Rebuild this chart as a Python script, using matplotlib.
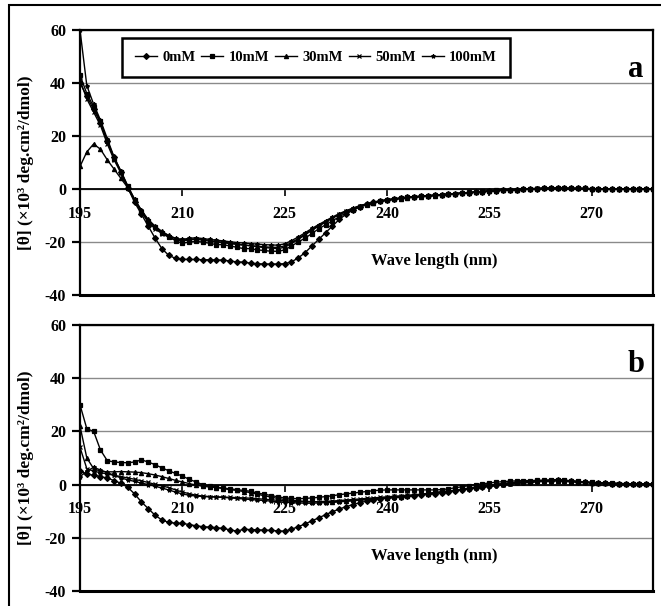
import matplotlib
matplotlib.use("Agg")
import matplotlib.pyplot as plt
from matplotlib.patches import Rectangle
import numpy as np

plt.rcParams['font.family'] = ['Liberation Serif', 'DejaVu Serif']
plt.rcParams['font.weight'] = 'bold'
plt.rcParams['axes.unicode_minus'] = False

# wavelength 195..279 nm, one point per nm
wave = list(range(195, 280))
labels = ["0mM", "10mM", "30mM", "50mM", "100mM"]
markers = ["D", "s", "^", "x", "*"]

# panel a
a_0mM = [40, 35, 30, 25, 18, 12, 6.5, 0.5, -5, -9.5,
         -14, -18.5, -22.5, -25, -26.2, -26.5, -26.6, -26.6, -26.7, -26.7,
         -26.8, -26.8, -27.2, -27.5, -27.6, -28, -28.2, -28.3, -28.3, -28.3,
         -28.2, -27.5, -26, -24, -21.5, -19, -16.5, -14, -11.5, -9.5,
         -8, -6.8, -5.8, -5, -4.4, -4, -3.7, -3.4, -3.2, -3,
         -2.8, -2.6, -2.4, -2.2, -2, -1.8, -1.6, -1.4, -1.2, -1,
         -0.8, -0.6, -0.5, -0.4, -0.2, -0.1, 0, 0.1, 0.2, 0.2,
         0.3, 0.2, 0.2, 0.3, 0.2, 0.1, 0.1, 0, 0, 0.1,
         0, 0, 0, 0, 0]
a_10mM = [43, 36, 31, 25.5, 18, 11.5, 6.5, 1, -4, -8.5,
          -12, -14.5, -16.5, -18, -19.5, -20.5, -20, -19.8, -20, -20.5,
          -21, -21, -21.5, -22, -22.5, -22.5, -23, -23.2, -23.5, -23.5,
          -23, -21.5, -20, -18.5, -16.8, -15, -13.5, -12, -10.5, -9,
          -7.8, -6.8, -6, -5.3, -4.7, -4.3, -3.9, -3.5, -3.2, -2.9,
          -2.7, -2.5, -2.3, -2.1, -1.9, -1.7, -1.5, -1.3, -1.1, -0.9,
          -0.7, -0.5, -0.4, -0.3, -0.2, -0.1, 0, 0.1, 0.2, 0.3,
          0.3, 0.3, 0.2, 0.2, 0.2, 0.1, 0.1, 0.1, 0, 0,
          0, 0, 0, 0, 0]
a_30mM = [8.5, 14, 17, 15, 11, 7.5, 4, 0.5, -4, -8,
          -11.5, -14, -16, -17.5, -18.7, -19.3, -19, -18.8, -19, -19.4,
          -19.8, -20.1, -20.4, -20.8, -21.1, -21.4, -21.8, -22.1, -22.3, -22.5,
          -22, -20.6, -19, -17.3, -15.6, -14, -12.5, -11, -9.7, -8.5,
          -7.4, -6.5, -5.7, -5.1, -4.6, -4.2, -3.9, -3.6, -3.3, -3.1,
          -2.9, -2.7, -2.5, -2.2, -2, -1.8, -1.6, -1.4, -1.2, -1,
          -0.8, -0.6, -0.5, -0.3, -0.2, -0.1, 0.1, 0.2, 0.3, 0.3,
          0.4, 0.3, 0.3, 0.2, 0.2, 0.1, 0.1, 0.1, 0, 0,
          0, 0, 0, 0, 0]
a_50mM = [41, 34, 29, 24, 17, 11, 6, 0.5, -4.5, -8.8,
          -12.5, -15, -16.8, -18.2, -19.2, -19.6, -19.2, -19, -19.3, -19.7,
          -20, -20.3, -20.6, -20.9, -21.2, -21.4, -21.6, -21.8, -22, -22,
          -21.5, -20.2, -18.7, -17, -15.3, -13.8, -12.3, -10.9, -9.6, -8.4,
          -7.4, -6.5, -5.7, -5.1, -4.6, -4.2, -3.8, -3.5, -3.2, -3,
          -2.8, -2.6, -2.4, -2.2, -2, -1.8, -1.6, -1.4, -1.2, -1,
          -0.8, -0.6, -0.4, -0.3, -0.2, 0, 0.1, 0.2, 0.3, 0.3,
          0.3, 0.3, 0.2, 0.2, 0.1, 0.1, 0.1, 0, 0, 0,
          0, 0, 0, 0, 0]
a_100mM = [60, 39, 32, 26, 19, 12, 6.8, 1.2, -3.8, -8,
           -11.8, -14.3, -16.2, -17.6, -18.6, -19, -18.6, -18.4, -18.7, -19,
           -19.3, -19.6, -19.9, -20.2, -20.4, -20.6, -20.8, -21, -21.1, -21.2,
           -20.7, -19.5, -18.1, -16.5, -14.9, -13.4, -12, -10.6, -9.3, -8.2,
           -7.2, -6.3, -5.6, -5, -4.5, -4.1, -3.7, -3.4, -3.1, -2.9,
           -2.7, -2.5, -2.3, -2.1, -1.9, -1.7, -1.5, -1.3, -1.1, -0.9,
           -0.7, -0.5, -0.4, -0.3, -0.1, 0, 0.1, 0.2, 0.3, 0.3,
           0.3, 0.2, 0.2, 0.2, 0.1, 0.1, 0.1, 0, 0, 0,
           0, 0, 0, 0, 0]

# panel b
b_0mM = [5, 4, 3.5, 3, 2.5, 1.5, 0.5, -1, -3.5, -6.5,
         -9, -11.5, -13.3, -14.2, -14.5, -14.6, -15, -15.5, -15.8, -16,
         -16.2, -16.5, -17, -17.5, -16.8, -16.9, -17, -17.1, -17.2, -17.4,
         -17.5, -16.8, -15.8, -14.8, -13.6, -12.5, -11.3, -10.2, -9.2, -8.3,
         -7.5, -6.8, -6.2, -5.7, -5.3, -5, -4.8, -4.6, -4.4, -4.2,
         -4, -3.7, -3.4, -3.1, -2.8, -2.4, -2, -1.6, -1.2, -0.8,
         -0.4, 0, 0.4, 0.7, 0.9, 1, 1.1, 1.2, 1.4, 1.5,
         1.6, 1.4, 1.2, 1, 0.8, 0.7, 0.6, 0.5, 0.4, 0.4,
         0.3, 0.2, 0.2, 0.1, 0.1]
b_10mM = [30, 21, 20, 13, 9, 8.5, 8.3, 8.2, 8.5, 9.3,
          8.5, 7.5, 6.3, 5.2, 4.2, 3.2, 2, 1, 0, -0.5,
          -1, -1.3, -1.6, -1.9, -2.2, -2.5, -3.2, -3.6, -4.1, -4.6,
          -5, -5.2, -5.3, -5.2, -5, -4.8, -4.5, -4.2, -3.8, -3.5,
          -3.2, -2.9, -2.6, -2.3, -2.1, -2, -2, -2, -2, -2,
          -2, -2, -2, -1.9, -1.6, -1.2, -0.8, -0.4, 0, 0.3,
          0.6, 0.9, 1.1, 1.3, 1.4, 1.5, 1.5, 1.6, 1.7, 1.8,
          1.9, 1.7, 1.4, 1.2, 1, 0.8, 0.7, 0.6, 0.5, 0.4,
          0.4, 0.3, 0.3, 0.2, 0.2]
b_30mM = [22, 10, 6, 5, 4.8, 4.8, 4.9, 4.8, 4.7, 4.5,
          4.1, 3.6, 3, 2.3, 1.6, 1, 0.4, -0.2, -0.6, -0.9,
          -1.1, -1.5, -1.9, -2.2, -2.6, -3, -3.6, -4.2, -4.7, -5.2,
          -5.6, -5.9, -6.1, -6.3, -6.4, -6.5, -6.5, -6.4, -6.3, -6.1,
          -5.9, -5.7, -5.5, -5.3, -5.1, -4.9, -4.7, -4.5, -4.3, -4,
          -3.7, -3.4, -3.1, -2.8, -2.5, -2.1, -1.7, -1.3, -0.9, -0.5,
          -0.2, 0.1, 0.4, 0.6, 0.8, 1, 1.1, 1.2, 1.3, 1.4,
          1.4, 1.3, 1.1, 0.9, 0.8, 0.7, 0.6, 0.5, 0.4, 0.3,
          0.3, 0.2, 0.2, 0.1, 0.1]
b_50mM = [14, 6, 5, 4.5, 4, 3.5, 3, 2.5, 2, 1.4,
          0.8, 0.1, -0.5, -1.1, -2, -2.8, -3.4, -4, -4.3, -4.5,
          -4.6, -4.7, -4.8, -4.9, -5, -5.1, -5.3, -5.5, -5.7, -5.9,
          -6.1, -6.3, -6.4, -6.5, -6.5, -6.4, -6.3, -6.2, -6, -5.8,
          -5.6, -5.4, -5.2, -5, -4.8, -4.6, -4.4, -4.2, -4, -3.8,
          -3.6, -3.3, -3, -2.7, -2.4, -2.1, -1.8, -1.5, -1.2, -0.9,
          -0.6, -0.3, 0, 0.3, 0.6, 0.8, 1, 1.2, 1.4, 1.6,
          1.7, 1.6, 1.4, 1.2, 1, 0.8, 0.7, 0.6, 0.5, 0.4,
          0.3, 0.3, 0.2, 0.2, 0.1]
b_100mM = [3, 5, 6.5, 5.5, 4.5, 3.5, 2.5, 1.8, 1.2, 0.6,
           0, -0.6, -1.3, -2, -2.8, -3.5, -4, -4.3, -4.5, -4.6,
           -4.7, -4.8, -5, -5.2, -5.4, -5.6, -5.8, -6, -6.2, -6.4,
           -6.6, -6.8, -6.9, -7, -7, -6.9, -6.8, -6.7, -6.5, -6.3,
           -6.1, -5.9, -5.7, -5.5, -5.3, -5.1, -4.9, -4.6, -4.3, -4,
           -3.7, -3.4, -3.1, -2.8, -2.5, -2.2, -1.9, -1.6, -1.3, -1,
           -0.7, -0.4, -0.1, 0.2, 0.5, 0.7, 0.9, 1.1, 1.3, 1.5,
           1.6, 1.5, 1.3, 1.1, 0.9, 0.8, 0.7, 0.6, 0.5, 0.4,
           0.3, 0.2, 0.2, 0.1, 0.1]

panel_a = [a_0mM, a_10mM, a_30mM, a_50mM, a_100mM]
panel_b = [b_0mM, b_10mM, b_30mM, b_50mM, b_100mM]

W, H = 661, 606
fig = plt.figure(figsize=(W / 100, H / 100), dpi=100)

# outer frame, right and bottom edges cut off
fig.patches.append(Rectangle((9 / W, -0.05), 1.1, 1 - 5 / H + 0.05,
                             transform=fig.transFigure, fill=False,
                             edgecolor='black', lw=1.5))

ax_a = fig.add_axes([80 / W, 1 - 295 / H, 573 / W, 265 / H])
ax_b = fig.add_axes([80 / W, 1 - 591 / H, 573 / W, 266 / H])

for ax, series, letter in [(ax_a, panel_a, "a"), (ax_b, panel_b, "b")]:
    for vals, lab, mk in zip(series, labels, markers):
        ax.plot(wave, vals, color='black', lw=1.0, marker=mk, ms=3,
                mew=0.9, label=lab)
    ax.set_xlim(195, 279)
    ax.set_ylim(-40, 60)
    ax.set_yticks([-40, -20, 0, 20, 40, 60])
    ax.set_xticks([195, 210, 225, 240, 255, 270])
    ax.grid(axis='y', color='#8a8a8a', lw=1)
    ax.set_axisbelow(True)
    ax.spines['bottom'].set_position(('data', 0))
    for s in ['left', 'top', 'right']:
        ax.spines[s].set_linewidth(1.6)
    ax.spines['bottom'].set_linewidth(1.3)
    ax.axhline(-40, color='black', lw=2.2, clip_on=False)
    ax.tick_params(axis='x', direction='out', length=5, width=1.2, pad=7,
                   labelsize=11.5)
    ax.tick_params(axis='y', direction='out', length=6, width=1.6, pad=4,
                   labelsize=11.5)
    ax.set_ylabel("[θ] (×10³ deg.cm²/dmol)", fontsize=12.5, fontweight='bold')
    ax.yaxis.set_label_coords(-0.08, 0.5)
    ax.text(247, -27, "Wave length (nm)", ha='center', va='center',
            fontsize=12, fontweight='bold')
    ax.text(0.97, 0.85, letter, transform=ax.transAxes, ha='center',
            va='center', fontsize=22, fontweight='bold')

leg = ax_a.legend(loc='upper left', ncol=5, mode='expand',
                  bbox_to_anchor=(42 / 573, 1 - 8 / 265, 388 / 573, 0.0),
                  fontsize=10.5, handlelength=1.5, handletextpad=0.35,
                  columnspacing=0.6, borderpad=0.9, borderaxespad=0.0,
                  fancybox=False, framealpha=1, edgecolor='black')
leg.get_frame().set_linewidth(1.8)

fig.savefig("out.png", dpi=100)
